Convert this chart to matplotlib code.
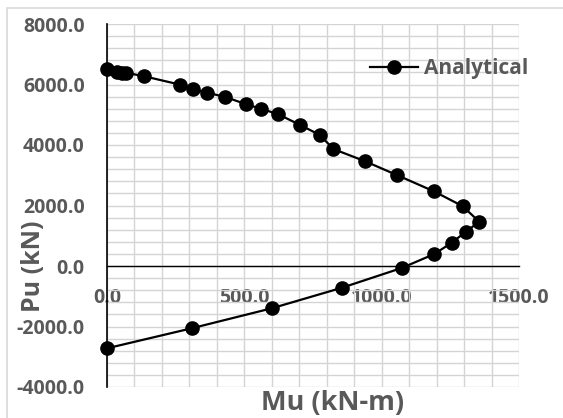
import matplotlib
matplotlib.use("Agg")
import matplotlib.pyplot as plt
from matplotlib.patches import Rectangle
from matplotlib.ticker import MultipleLocator, FormatStrFormatter

# Data: interaction diagram (Mu, Pu)
mu = [0, 36, 55, 69, 136, 267, 314, 365, 431, 507, 560, 624, 703, 775, 824,
      940, 1055, 1190, 1295, 1355, 1307, 1255, 1192, 1073, 856, 600, 308, 0]
pu = [6500, 6423, 6390, 6390, 6271, 5993, 5841, 5729, 5587, 5345, 5200, 5015,
      4661, 4331, 3868, 3461, 3008, 2469, 1977, 1464, 1134, 770, 397, -66,
      -717, -1398, -2060, -2721]
series_name = "Analytical"
x_label = "Mu (kN-m)"
y_label = "Pu (kN)"

plt.rcParams['font.family'] = ['Open Sans', 'DejaVu Sans']
plt.rcParams['font.weight'] = 'bold'
txt = '#595959'

fig = plt.figure(figsize=(5.63, 4.18), dpi=100)
ax = fig.add_axes([107/563, 1-387/418, (519-107)/563, (387-24)/418])

ax.set_xlim(0, 1500)
ax.set_ylim(-4000, 8000)
ax.xaxis.set_major_locator(MultipleLocator(500))
ax.xaxis.set_minor_locator(MultipleLocator(100))
ax.yaxis.set_major_locator(MultipleLocator(2000))
ax.yaxis.set_minor_locator(MultipleLocator(400))
ax.xaxis.set_major_formatter(FormatStrFormatter('%.1f'))
ax.yaxis.set_major_formatter(FormatStrFormatter('%.1f'))

ax.set_axisbelow(True)
ax.grid(True, which='major', color='#d4d4d4', linewidth=1.0)
ax.grid(True, which='minor', color='#d4d4d4', linewidth=1.0)

for s in ['top', 'right']:
    ax.spines[s].set_visible(False)
ax.spines['bottom'].set_position(('data', 0))
ax.spines['left'].set_position(('data', 0))
ax.spines['bottom'].set_color('black')
ax.spines['left'].set_color('black')
ax.spines['bottom'].set_linewidth(1.0)
ax.spines['left'].set_linewidth(1.2)

ax.tick_params(axis='both', which='both', length=0)
ax.tick_params(axis='x', pad=16, labelsize=14, labelcolor=txt)
ax.tick_params(axis='y', pad=16, labelsize=14, labelcolor=txt)
for lab in ax.get_xticklabels() + ax.get_yticklabels():
    lab.set_fontweight('bold')

ax.plot(mu, pu, color='black', linewidth=1.6, marker='o', markersize=9.5,
        markerfacecolor='black', markeredgecolor='black', label=series_name,
        zorder=3, clip_on=False)

leg = ax.legend(loc='upper left', bbox_to_anchor=((362-107)/412, 1-(50-24)/363),
                frameon=False, handlelength=2.3, handletextpad=0.3,
                borderaxespad=0, prop={'weight': 'bold', 'size': 15})
for t in leg.get_texts():
    t.set_color(txt)

fig.text(333/563, 1-403/418, x_label, ha='center', va='center',
         fontsize=19.5, fontweight='bold', color=txt)
fig.text(33/563, 1-266/418, y_label, ha='center', va='center', rotation=90,
         fontsize=18, fontweight='bold', color=txt)

fig.patches.append(Rectangle((7/563, -0.05), 1.2, 1.05 - 8/418,
                             transform=fig.transFigure, fill=False,
                             edgecolor='#d9d9d9', linewidth=1.2))

fig.savefig('out.png', dpi=100)
